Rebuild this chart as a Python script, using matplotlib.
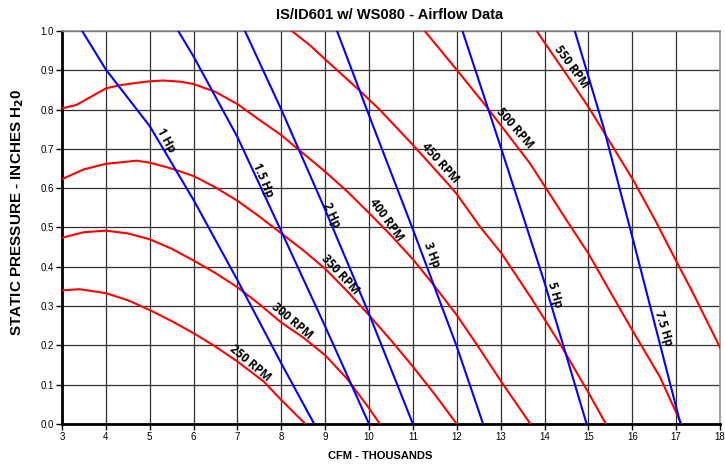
import matplotlib
matplotlib.use("Agg")
import matplotlib.pyplot as plt

# fan curves (red)
rpm_labels = ["250 RPM", "300 RPM", "350 RPM", "400 RPM", "450 RPM", "500 RPM", "550 RPM"]
rpm250_x = [3.0, 3.4, 4.0, 4.5, 5.0, 5.5, 6.0, 6.5, 7.0, 7.6, 8.0, 8.55]
rpm250_y = [0.34, 0.343, 0.333, 0.315, 0.29, 0.262, 0.231, 0.197, 0.159, 0.108, 0.061, 0.0]
rpm300_x = [3.0, 3.5, 4.0, 4.5, 5.0, 5.5, 6.0, 6.5, 7.0, 7.5, 8.0, 8.5, 9.0, 9.5, 10.0, 10.25]
rpm300_y = [0.474, 0.488, 0.492, 0.485, 0.47, 0.446, 0.416, 0.384, 0.348, 0.305, 0.258, 0.22, 0.175, 0.115, 0.04, 0.0]
rpm350_x = [3.0, 3.5, 4.0, 4.7, 5.0, 5.5, 6.0, 6.5, 7.0, 7.5, 8.0, 8.5, 9.0, 9.5, 10.0, 10.5, 11.0, 11.5, 12.0]
rpm350_y = [0.623, 0.648, 0.662, 0.67, 0.665, 0.65, 0.631, 0.602, 0.568, 0.528, 0.485, 0.442, 0.395, 0.338, 0.277, 0.213, 0.146, 0.075, 0.0]
rpm400_x = [3.0, 3.33, 3.7, 4.0, 4.32, 4.7, 5.0, 5.31, 5.7, 6.0, 6.5, 7.0, 7.5, 8.0, 8.31, 9.0, 9.5, 10.0, 10.5, 11.0, 11.5, 12.0, 12.5, 13.0, 13.68]
rpm400_y = [0.803, 0.812, 0.835, 0.854, 0.862, 0.868, 0.872, 0.874, 0.871, 0.865, 0.845, 0.814, 0.774, 0.735, 0.706, 0.642, 0.592, 0.537, 0.48, 0.419, 0.35, 0.277, 0.195, 0.11, 0.0]
rpm450_x = [8.24, 8.65, 9.0, 9.77, 10.25, 11.0, 11.84, 12.0, 12.53, 13.02, 13.7, 14.39, 15.0, 15.4]
rpm450_y = [1.0, 0.964, 0.928, 0.85, 0.799, 0.71, 0.606, 0.585, 0.502, 0.434, 0.32, 0.197, 0.08, 0.0]
rpm500_x = [11.27, 12.0, 12.68, 13.67, 14.01, 14.5, 15.0, 15.49, 16.02, 16.63, 17.12]
rpm500_y = [1.0, 0.901, 0.807, 0.663, 0.604, 0.519, 0.434, 0.338, 0.235, 0.12, 0.0]
rpm550_x = [13.82, 14.43, 15.0, 16.02, 16.52, 17.01, 17.35, 18.0]
rpm550_y = [1.0, 0.901, 0.807, 0.621, 0.519, 0.413, 0.341, 0.195]

# horsepower lines (blue)
hp_labels = ["1 Hp", "1.5 Hp", "2 Hp", "3 Hp", "5 Hp", "7.5 Hp"]
hp1_x = [3.46, 4.0, 5.0, 6.0, 7.0, 8.0, 8.75]
hp1_y = [1.0, 0.902, 0.758, 0.57, 0.366, 0.154, 0.0]
hp15_x = [5.65, 6.0, 7.0, 8.0, 9.0, 10.0]
hp15_y = [1.0, 0.935, 0.73, 0.49, 0.248, 0.0]
hp2_x = [7.17, 8.0, 9.0, 10.0, 11.0]
hp2_y = [1.0, 0.80, 0.545, 0.28, 0.0]
hp3_x = [9.27, 10.0, 11.0, 12.0, 12.6]
hp3_y = [1.0, 0.785, 0.495, 0.197, 0.0]
hp5_x = [12.13, 13.0, 14.0, 14.96]
hp5_y = [1.0, 0.705, 0.36, 0.0]
hp75_x = [14.69, 15.34, 16.02, 17.1]
hp75_y = [1.0, 0.757, 0.468, 0.0]

rpm_curves = [(rpm250_x, rpm250_y), (rpm300_x, rpm300_y), (rpm350_x, rpm350_y),
              (rpm400_x, rpm400_y), (rpm450_x, rpm450_y), (rpm500_x, rpm500_y),
              (rpm550_x, rpm550_y)]
hp_curves = [(hp1_x, hp1_y), (hp15_x, hp15_y), (hp2_x, hp2_y),
             (hp3_x, hp3_y), (hp5_x, hp5_y), (hp75_x, hp75_y)]

# label anchor (data) and angle (degrees on screen)
rpm_label_pos = [(7.29, 0.155, -40), (8.24, 0.262, -40), (9.34, 0.379, -47), (10.40, 0.519, -54),
                 (11.62, 0.664, -48), (13.33, 0.753, -49), (14.62, 0.909, -54)]
hp_label_pos = [(5.37, 0.723, -61), (7.59, 0.621, -67), (9.15, 0.532, -65),
                (11.43, 0.430, -69), (14.24, 0.328, -74), (16.71, 0.244, -73)]

narrow = ["Liberation Sans Narrow", "Liberation Sans", "DejaVu Sans"]
plt.rcParams["font.family"] = narrow
plt.rcParams["mathtext.fontset"] = "custom"
plt.rcParams["mathtext.rm"] = "Liberation Sans Narrow:bold"
plt.rcParams["mathtext.default"] = "rm"

fig = plt.figure(figsize=(7.25, 4.66), dpi=100)
ax = fig.add_axes([62 / 725, 1 - 424 / 466, 658 / 725, 393 / 466])

for x, y in rpm_curves:
    ax.plot(x, y, color="#ff0000", lw=1.5, zorder=3)
for x, y in hp_curves:
    ax.plot(x, y, color="#0000ff", lw=1.5, zorder=3)

lab_font = dict(family=["Open Sans", "DejaVu Sans"], fontsize=8.5, fontweight="bold",
                ha="center", va="center", rotation_mode="anchor", zorder=4)
for (lx, ly, ang), txt in zip(rpm_label_pos, rpm_labels):
    ax.text(lx, ly, txt, rotation=ang, **lab_font)
for (lx, ly, ang), txt in zip(hp_label_pos, hp_labels):
    ax.text(lx, ly, txt, rotation=ang, **lab_font)

ax.set_xlim(3, 18)
ax.set_ylim(0, 1.0)
ax.set_xticks(range(3, 19))
ax.set_yticks([i / 10 for i in range(11)])
ax.set_yticklabels([f"{i / 10:.1f}" for i in range(11)])
ax.grid(True, color="#303030", lw=0.9)
ax.set_axisbelow(True)
ax.tick_params(labelsize=7, length=4, width=1, colors="black", pad=2)

for s in ["top", "right"]:
    ax.spines[s].set_color("#909090")
    ax.spines[s].set_linewidth(1.2)
for s in ["left", "bottom"]:
    ax.spines[s].set_color("black")
    ax.spines[s].set_linewidth(2)

fig.text(390 / 725, 1 - 15 / 466, "IS/ID601 w/ WS080 - Airflow Data", ha="center", va="center",
         fontsize=10.5, fontweight="bold")
fig.text(380 / 725, 1 - 456 / 466, "CFM - THOUSANDS", ha="center", va="center",
         fontsize=8, fontweight="bold")
fig.text(18 / 725, 1 - 212 / 466, "STATIC PRESSURE - INCHES H$_2$0", ha="center", va="center",
         rotation=90, fontsize=11, fontweight="bold")

fig.savefig("out.png", dpi=100)
